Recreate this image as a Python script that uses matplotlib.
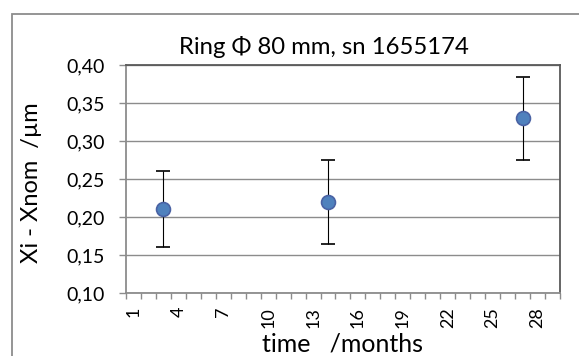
import matplotlib.pyplot as plt
from matplotlib.patches import Rectangle
from matplotlib.ticker import FuncFormatter, FixedLocator

plt.rcParams['font.family'] = ['Lato', 'DejaVu Sans']

# measurement data
months = [3, 14, 27]
deviation = [0.21, 0.22, 0.33]
uncertainty = [0.05, 0.055, 0.055]
month_labels = [1, 4, 7, 10, 13, 16, 19, 22, 25, 28]

fig = plt.figure(figsize=(5.79, 3.56), dpi=100)
ax = fig.add_axes([0.2176, 0.177, 0.7495, 0.640])

# chart frame around everything
fig.patches.append(Rectangle((12 / 579, -0.1), 1.2, 1 - 14 / 356 + 0.1,
                             transform=fig.transFigure, fill=False,
                             edgecolor='#8c8c8c', linewidth=1.3))

ax.errorbar(months, deviation, yerr=uncertainty, fmt='o', color='#4F81BD',
            markeredgecolor='#4a62a4', markeredgewidth=1.2, markersize=10,
            ecolor='black', elinewidth=0.8, capsize=4.7, capthick=0.8, zorder=3)

ax.set_xlim(0.5, 29.5)
ax.set_ylim(0.10, 0.40)
ax.set_yticks([0.10, 0.15, 0.20, 0.25, 0.30, 0.35, 0.40])
ax.yaxis.set_major_formatter(FuncFormatter(lambda v, p: f'{v:.2f}'.replace('.', ',')))
ax.grid(axis='y', color='#8c8c8c', linewidth=1.0)
ax.set_axisbelow(True)

# category axis: labels at centres, tick marks between categories
ax.xaxis.set_major_locator(FixedLocator(month_labels))
ax.set_xticklabels([str(m) for m in month_labels], rotation=90)
ax.xaxis.set_minor_locator(FixedLocator([i + 0.5 for i in range(30)]))
ax.tick_params(axis='x', which='major', length=0, pad=10, labelsize=13)
ax.tick_params(axis='x', which='minor', length=4, width=1, color='#8c8c8c')
ax.tick_params(axis='y', length=5, width=1, color='#8c8c8c', labelsize=14, pad=10)

ax.spines['left'].set_color('#8c8c8c')
ax.spines['bottom'].set_color('#8c8c8c')
ax.spines['top'].set_color('#595959')
ax.spines['right'].set_color('#595959')
for s in ax.spines.values():
    s.set_linewidth(1.3)

# title and axis titles placed relative to the whole chart
fig.text(324 / 579, 1 - 54 / 356, 'Ring Φ 80 mm, sn 1655174', fontsize=17.2,
         ha='center', va='baseline')
fig.text(32 / 579, 1 - 183 / 356, 'Xi - Xnom  /µm', fontsize=17, rotation=90,
         ha='center', va='center')
fig.text(342.5 / 579, 1 - 351 / 356, 'time   /months', fontsize=18,
         ha='center', va='baseline')

fig.savefig('out.png', dpi=100)
